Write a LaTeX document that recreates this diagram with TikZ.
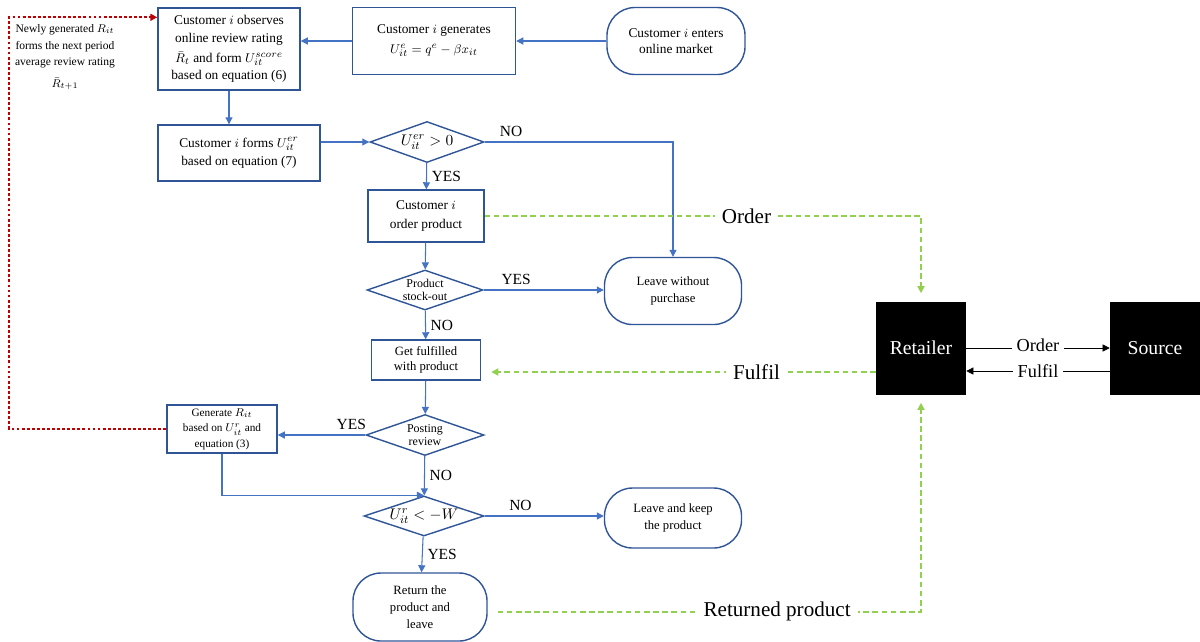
\documentclass[tikz,border=0pt]{standalone}
\usepackage{fontspec}
\setmainfont{Liberation Serif}
\usetikzlibrary{shapes.geometric,arrows.meta}

\definecolor{boxblue}{HTML}{2F5597}
\definecolor{lineblue}{HTML}{4472C4}
\definecolor{ordgreen}{HTML}{92D050}
\definecolor{dotred}{HTML}{C00000}

\begin{document}
\begin{tikzpicture}[x=0.025cm, y=-0.025cm, >={Triangle[length=5pt,width=5pt]},
    box/.style={draw=boxblue, line width=1pt, align=center, inner sep=2pt,
      font=\fontsize{9.5}{11.5}\selectfont},
    term/.style={box, rounded corners=0.7cm},
    cond/.style={draw=boxblue, line width=1pt, diamond, aspect=2.8, inner sep=0pt,
      align=center, font=\fontsize{8.5}{9.5}\selectfont},
    flow/.style={draw=lineblue, line width=0.75pt, ->},
    chain/.style={draw=ordgreen, line width=1.1pt, dash pattern=on 4pt off 2.5pt, ->},
    ans/.style={font=\fontsize{11}{13}\selectfont},
    big/.style={font=\fontsize{15}{17}\selectfont, fill=white, inner sep=5pt},
    party/.style={fill=black, text=white, minimum width=2.25cm, minimum height=2.325cm,
      font=\fontsize{14}{16}\selectfont}]
  \useasboundingbox (0,0) rectangle (1200,641);

  \node[box, minimum width=3.55cm, minimum height=2.05cm, font=\fontsize{9.5}{12.5}\selectfont] (obs) at (229,49)
    {Customer $i$ observes\\online review rating\\[2pt]$\bar{R}_t$ and form $U_{it}^{score}$\\based on equation (6)};
  \node[box, minimum width=4.075cm, minimum height=1.675cm, font=\fontsize{9.5}{14}\selectfont] (gen) at (434,41)
    {Customer $i$ generates\\$U_{it}^{e}=q^{e}-\beta x_{it}$};
  \node[term, minimum width=3.45cm, minimum height=1.675cm] (enter) at (676,41)
    {Customer $i$ enters\\online market};
  \node[box, minimum width=4.05cm, minimum height=1.4cm, font=\fontsize{9.5}{13}\selectfont] (forms) at (239,153)
    {Customer $i$ forms $U_{it}^{er}$\\based on equation (7)};
  \node[cond, minimum width=2.85cm, minimum height=1.025cm, font=\fontsize{11}{13}\selectfont] (pos) at (427,142)
    {$U_{it}^{er}>0$};
  \node[box, minimum width=2.9cm, minimum height=1.3cm, font=\fontsize{9.5}{13}\selectfont] (order) at (426,216)
    {Customer $i$\\order product};
  \node[cond, minimum width=2.9cm, minimum height=1cm] (stock) at (425,290)
    {Product\\stock-out};
  \node[term, minimum width=3.425cm, minimum height=1.675cm, font=\fontsize{9}{12}\selectfont] (leavea) at (673,291)
    {Leave without\\purchase};
  \node[box, minimum width=2.725cm, minimum height=1cm, font=\fontsize{9}{11}\selectfont] (fill) at (426,360)
    {Get fulfilled\\with product};
  \node[cond, minimum width=2.95cm, minimum height=1.025cm] (post) at (425,435)
    {Posting\\review};
  \node[box, minimum width=2.75cm, minimum height=1.2cm, font=\fontsize{8}{11}\selectfont] (rate) at (222,429)
    {Generate $R_{it}$\\based on $U_{it}^{r}$ and\\equation (3)};
  \node[cond, minimum width=3cm, minimum height=1cm, font=\fontsize{11}{13}\selectfont] (ret) at (424,516)
    {$U_{it}^{r}<-W$};
  \node[term, minimum width=3.425cm, minimum height=1.5cm, font=\fontsize{9}{12}\selectfont] (leaveb) at (673,518)
    {Leave and keep\\the product};
  \node[term, minimum width=3.35cm, minimum height=1.7cm, font=\fontsize{9}{12}\selectfont] (back) at (420,607)
    {Return the\\product and\\leave};
  \node[party] (retailer) at (921,348) {Retailer};
  \node[party] (source) at (1155,348) {Source};
  \node[align=center, font=\fontsize{8.2}{12}\selectfont] (note) at (65,57)
    {Newly generated $R_{it}$\\forms the next period\\average review rating\\[3pt]$\bar{R}_{t+1}$};

  \draw[flow] (enter) -- (gen);
  \draw[flow] (gen.west) -- (gen.west -| obs.east);
  \draw[flow] (obs.south) -- (obs.south |- forms.north);
  \draw[flow] (forms.east |- pos) -- (pos.west);
  \draw[flow] (pos.east) -| node[ans, pos=0.07, above] {NO} (leavea.north);
  \draw[flow] (pos) -- node[ans, right] {YES} (order);
  \draw[flow] (order) -- (stock);
  \draw[flow] (stock.east) -- node[ans, pos=0.27, above] {YES} (stock.east -| leavea.west);
  \draw[flow] (stock) -- node[ans, right] {NO} (fill);
  \draw[flow] (fill) -- (post);
  \draw[flow] (post.west) -- node[ans, pos=0.16, above] {YES} (post.west -| rate.east);
  \draw[flow] (post) -- node[ans, right] {NO} (ret);
  \draw[flow] (rate.south) |- (ret.north);
  \draw[flow] (ret.east) -- node[ans, pos=0.3, above] {NO} (ret.east -| leaveb.west);
  \draw[flow] (ret) -- node[ans, right] {YES} (back);

  \draw[dotred, line width=1.2pt, dash pattern=on 2pt off 1.6pt, ->] (rate.west) -- ++(-157,0) |- ([yshift=-0.25cm]obs.north west);

  \draw[chain] (order.east) -| node[big, pos=0.3] {Order} ([yshift=0.2cm]retailer.north);
  \draw[chain] ([yshift=-0.6cm]retailer.west) -- node[big, pos=0.31] {Fulfil}
    ([yshift=-0.6cm, xshift=0.25cm]retailer.west -| fill.east);
  \draw[chain] ([xshift=0.25cm, yshift=-0.12cm]back.east) -| node[big, pos=0.33] {Returned product}
    ([yshift=-0.2cm]retailer.south);

  \draw[->] (retailer.east) -- node[fill=white, font=\fontsize{13}{15}\selectfont, yshift=2pt] {Order} (source.west);
  \draw[->] ([yshift=-0.575cm]source.west) -- node[fill=white, font=\fontsize{13}{15}\selectfont] {Fulfil}
    ([yshift=-0.575cm]retailer.east);
\end{tikzpicture}
\end{document}
